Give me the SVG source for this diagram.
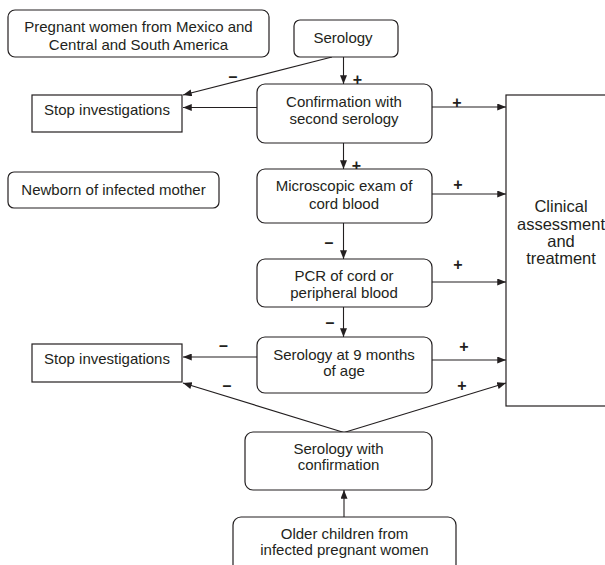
<svg xmlns="http://www.w3.org/2000/svg" width="605" height="565" viewBox="0 0 605 565">
<defs>
<marker id="ah" viewBox="0 0 10 8" refX="10" refY="4" markerWidth="9" markerHeight="7" markerUnits="userSpaceOnUse" orient="auto">
<path d="M0,0 L10,4 L0,8 Z" fill="#231f20"/>
</marker>
<style>
.box{fill:#fff;stroke:#231f20;stroke-width:1.2}
.t{font-family:"Liberation Sans",Arial,sans-serif;font-size:15px;fill:#231f20;text-anchor:middle}
.big{font-size:16.5px}
.c{stroke:#231f20;stroke-width:1.1;fill:none;marker-end:url(#ah)}
.s{font-family:"Liberation Sans",Arial,sans-serif;font-size:16px;font-weight:bold;fill:#231f20;text-anchor:middle}
</style>
</defs>
<rect width="605" height="565" fill="#fff"/>

<g id="connectors">
<line class="c" x1="343.5" y1="57" x2="343.5" y2="84"/>
<line class="c" x1="332" y1="57" x2="183" y2="95"/>
<line class="c" x1="257" y1="107.5" x2="183" y2="107.5"/>
<line class="c" x1="343.5" y1="143" x2="343.5" y2="169"/>
<line class="c" x1="343.5" y1="223" x2="343.5" y2="259"/>
<line class="c" x1="343.5" y1="307" x2="343.5" y2="337"/>
<line class="c" x1="257" y1="357" x2="183" y2="357"/>
<line class="c" x1="344" y1="432.5" x2="183" y2="383"/>
<line class="c" x1="344" y1="432.5" x2="506" y2="383"/>
<line class="c" x1="344" y1="517" x2="344" y2="490"/>
<line class="c" x1="432" y1="107" x2="506" y2="107"/>
<line class="c" x1="432" y1="194" x2="506" y2="194"/>
<line class="c" x1="432" y1="282" x2="506" y2="282"/>
<line class="c" x1="432" y1="360" x2="506" y2="360"/>
<text class="s" x="357.5" y="84.5">+</text>
<text class="s" x="233" y="82">–</text>
<text class="s" x="356.5" y="171">+</text>
<text class="s" x="329" y="248">–</text>
<text class="s" x="330" y="328">–</text>
<text class="s" x="223.5" y="350.5">–</text>
<text class="s" x="227" y="391">–</text>
<text class="s" x="457" y="108">+</text>
<text class="s" x="458" y="190">+</text>
<text class="s" x="458" y="269.5">+</text>
<text class="s" x="464" y="352">+</text>
<text class="s" x="462" y="390.5">+</text>
</g>

<g id="pregnant">
<rect class="box" x="8" y="10" width="261" height="47" rx="7"/>
<text class="t" x="138.5" y="31.5">Pregnant women from Mexico and</text>
<text class="t" x="138.5" y="49.5">Central and South America</text>
</g>

<g id="serology">
<rect class="box" x="294" y="20" width="104" height="37" rx="6"/>
<text class="t" x="343" y="42.5">Serology</text>
</g>

<g id="stop1">
<rect class="box" x="32" y="95" width="150" height="37" rx="0"/>
<text class="t" x="107" y="114.5">Stop investigations</text>
</g>

<g id="confirmation">
<rect class="box" x="257" y="84" width="175" height="59" rx="8"/>
<text class="t" x="344" y="107">Confirmation with</text>
<text class="t" x="344" y="124">second serology</text>
</g>

<g id="newborn">
<rect class="box" x="8" y="172" width="211" height="36" rx="6"/>
<text class="t" x="113.5" y="194.5">Newborn of infected mother</text>
</g>

<g id="microscopic">
<rect class="box" x="257" y="169" width="175" height="54" rx="8"/>
<text class="t" x="344" y="191">Microscopic exam of</text>
<text class="t" x="344" y="209">cord blood</text>
</g>

<g id="pcr">
<rect class="box" x="257" y="259" width="175" height="48" rx="8"/>
<text class="t" x="344" y="281">PCR of cord or</text>
<text class="t" x="344" y="297.5">peripheral blood</text>
</g>

<g id="serology9">
<rect class="box" x="257" y="337" width="175" height="56" rx="8"/>
<text class="t" x="344" y="360">Serology at 9 months</text>
<text class="t" x="344" y="376">of age</text>
</g>

<g id="stop2">
<rect class="box" x="32" y="344" width="150" height="38" rx="0"/>
<text class="t" x="107" y="363.5">Stop investigations</text>
</g>

<g id="serologyconf">
<rect class="box" x="245" y="432" width="187" height="58" rx="8"/>
<text class="t" x="338.5" y="453.5">Serology with</text>
<text class="t" x="338.5" y="470">confirmation</text>
</g>

<g id="older">
<rect class="box" x="233" y="517" width="223" height="60" rx="8"/>
<text class="t" x="344.5" y="539">Older children from</text>
<text class="t" x="344.5" y="555">infected pregnant women</text>
</g>

<g id="clinical">
<rect class="box" x="506" y="95" width="110" height="311" rx="0"/>
<text class="t big" x="561" y="212">Clinical</text>
<text class="t big" x="561" y="230">assessment</text>
<text class="t big" x="561" y="247">and</text>
<text class="t big" x="561" y="263.5">treatment</text>
</g>
</svg>
